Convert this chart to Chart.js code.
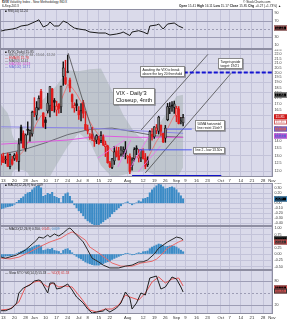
<!DOCTYPE html>
<html lang="en">
<head>
<meta charset="UTF-8">
<title>$VIX daily</title>
<script src="https://cdn.jsdelivr.net/npm/chart.js"></script>
<style>
  * { box-sizing: border-box; }
  body { margin: 0; width: 287px; height: 320px; overflow: hidden; position: relative; background: #fff;
         font-family: 'Liberation Sans', Arial, sans-serif; color: #222; }
  canvas { position: absolute; left: 0; }
  .t { position: absolute; white-space: nowrap; font-size: 3.2px; line-height: 3.4px; z-index: 4; }
  .note { position: absolute; background: #fff; border: 0.6px solid #888; box-shadow: 0.8px 0.8px 0 rgba(0,0,0,0.35);
          white-space: nowrap; font-size: 3.3px; line-height: 4px; padding: 0.5px 1.5px; color: #111; z-index: 5; }
  .big { font-size: 5.6px; line-height: 7px; padding: 0.5px 2px; }
</style>
</head>
<body>
<canvas id="rsi" width="287" height="40" style="top:9px"></canvas>
<canvas id="main" width="287" height="134" style="top:49px"></canvas>
<canvas id="hist" width="287" height="43" style="top:183px"></canvas>
<canvas id="macd" width="287" height="44" style="top:226px"></canvas>
<canvas id="sto" width="287" height="50" style="top:270px"></canvas>

<div class="t" style="left:2px;top:0.5px"><b>$VIX</b> Volatility Index - New Methodology INDX</div>
<div class="t" style="left:2px;top:4.5px">6-Sep-2013</div>
<div class="t" style="left:243px;top:0.5px">© StockCharts.com</div>
<div class="t" style="left:179px;top:4.5px"><b>Open</b> 15.41 <b>High</b> 16.11 <b>Low</b> 15.17 <b>Close</b> 15.85 <b>Chg</b> +0.27 (+1.73%) ▲</div>
<div class="t" style="left:5px;top:10px">■ RSI(14) 52.24</div>

<div class="t" style="left:5px;top:50.5px">■ $VIX (Daily) 15.85</div>
<div class="t" style="left:5px;top:53.5px;color:#666">— BB(20,2.0) 17.84 - 15.04 - 12.24</div>
<div class="t" style="left:5px;top:56.5px;color:#d02020">— EMA(8) 15.78</div>
<div class="t" style="left:5px;top:59.5px;color:#444">— MA(50) 14.41</div>
<div class="t" style="left:5px;top:62.5px;color:#d040d0">— MA(200) 14.33</div>
<div class="t" style="left:5px;top:65.5px;color:#6060d0">— MA(100) 14.71</div>

<div class="t" style="left:5px;top:184px">■ MACD(12,26,9) hist 0.09</div>
<div class="t" style="left:5px;top:227.5px">— MACD(12,26,9) 0.550, <span style="color:#d03030">0.541</span>, <span style="color:#3b8bc6">0.009</span></div>
<div class="t" style="left:5px;top:271.5px">— Slow STO %K(14,3) 55.33 <span style="color:#d03030">— %D(3) 61.53</span></div>

<div class="note" style="left:140px;top:66px">Awaiting the VIX to break<br>above the key 20 threshold</div>
<div class="note big" style="left:113px;top:88px">VIX - Daily'3<br>Closeup, 4mth</div>
<div class="note" style="left:218px;top:58px">Target upside<br>target: 19/21</div>
<div class="note" style="left:195px;top:120px">50MA horizontal<br>line resist 15ish?</div>
<div class="note" style="left:193px;top:147px;line-height:3.6px">line 2 - low 13.50s</div>

<script>
  // ---------- data (trading-day index 0 = 10 May 2013) ----------
  const tickDays = [1, 6, 11, 15, 20, 25, 30, 35, 39, 44, 49, 57, 64, 69, 74, 79, 83, 88, 93, 99, 103, 108, 113, 118, 122];
  const tickText = ['13', '20', '28', 'Jun', '10', '17', '24', 'Jul', '8', '15', '22', 'Aug', '12', '19', '26', 'Sep', '9', '16', '23', 'Oct', '7', '14', '21', '28', 'Nov'];

  const prevClose = 12.88;
  const open = [13.02, 12.94, 12.71, 13.07, 12.28, 12.73, 12.81, 13.08, 12.62, 15.07,
    14.59, 13.49, 14.88, 14.62, 14.56, 16.36, 16.03, 16.63, 18.14, 16.22,
    15.65, 16.40, 16.82, 18.37, 17.31, 16.47, 16.97, 16.74, 19.61, 19.49,
    20.01, 19.24, 17.84, 16.66, 17.01, 16.41, 16.31, 17.11, 15.29, 14.84,
    14.29, 14.51, 14.06, 14.10, 14.20, 14.06, 14.33, 13.63, 13.67, 12.51,
    12.23, 12.66, 13.33, 13.01, 13.11, 13.31, 13.16, 12.89, 12.95, 12.35,
    12.80, 13.52, 12.84, 12.85, 13.33, 12.81, 12.41, 13.40, 14.52, 14.34,
    14.85, 14.77, 15.23, 14.59, 14.24, 15.67, 16.62, 16.83, 16.70, 16.03,
    16.56, 15.50, 15.41];
  const high = [13.09, 13.17, 12.97, 13.18, 13.13, 12.96, 13.14, 13.24, 14.20, 15.23,
    14.79, 14.55, 15.49, 14.87, 16.39, 17.56, 17.21, 17.74, 18.34, 16.25,
    15.86, 17.97, 18.59, 18.44, 17.49, 17.24, 17.03, 18.66, 21.15, 21.32,
    21.91, 19.45, 17.92, 17.10, 17.38, 16.77, 17.02, 17.32, 16.35, 15.24,
    14.58, 15.06, 14.26, 14.50, 14.38, 14.73, 14.49, 14.02, 13.72, 12.63,
    12.82, 13.65, 13.60, 13.58, 13.62, 13.61, 13.99, 13.02, 13.13, 12.85,
    13.55, 13.69, 13.44, 13.44, 13.47, 13.15, 12.93, 14.80, 14.96, 15.11,
    15.28, 15.95, 15.24, 14.62, 15.21, 17.05, 17.11, 17.20, 17.25, 16.80,
    16.77, 15.85, 16.11];
  const low = [12.39, 12.54, 12.48, 12.30, 12.14, 12.37, 12.68, 12.61, 11.99, 13.87,
    13.53, 13.30, 14.47, 14.02, 14.39, 15.91, 15.64, 16.47, 16.56, 15.06,
    14.95, 16.22, 15.90, 16.41, 16.29, 15.99, 16.21, 16.25, 18.70, 18.79,
    19.98, 18.09, 16.65, 16.28, 16.41, 15.68, 15.56, 15.81, 14.87, 14.55,
    14.14, 14.06, 13.64, 13.84, 13.78, 13.90, 13.70, 12.94, 12.50, 12.22,
    12.15, 12.42, 12.91, 12.72, 12.96, 12.95, 12.79, 12.50, 11.84, 12.06,
    12.64, 13.07, 12.58, 12.61, 12.76, 12.15, 12.29, 13.40, 14.09, 14.22,
    14.56, 14.54, 14.44, 13.90, 13.93, 15.58, 16.16, 16.35, 16.19, 15.50,
    15.32, 15.32, 15.17];
  const close = [12.59, 12.55, 12.77, 12.31, 13.07, 12.45, 13.02, 12.73, 13.82, 14.07,
    13.53, 14.48, 14.83, 14.83, 16.30, 16.27, 16.68, 17.50, 16.63, 15.14,
    15.44, 17.07, 18.59, 16.41, 17.15, 16.80, 16.61, 18.64, 20.49, 18.90,
    20.11, 18.47, 17.21, 16.86, 16.86, 16.07, 16.44, 16.20, 14.89, 14.78,
    14.35, 14.21, 14.01, 14.42, 13.84, 14.42, 13.78, 13.77, 12.54, 12.29,
    12.79, 13.26, 12.97, 12.72, 13.39, 13.39, 13.45, 12.94, 11.98, 12.72,
    13.41, 13.44, 12.98, 13.41, 12.81, 12.31, 12.72, 14.73, 14.37, 15.10,
    14.99, 15.88, 14.76, 13.98, 14.99, 16.77, 16.77, 16.81, 17.01, 16.61,
    15.36, 15.58, 15.85];

  // Bollinger band (20,2) and moving averages
  const bbDay = [0, 3, 4, 5, 6, 8, 10, 12, 14, 17, 20, 25, 30, 35, 40, 45, 50, 55, 60, 65, 70, 75, 79, 82];
  const bbUpper = [16.9, 16.2, 15.6, 14.5, 14.1, 14.1, 14.25, 14.7, 15.4, 17.05, 17.6, 18.7, 20.24, 20.13, 20.35, 20.43, 18.19, 16.08, 14.68, 14.0, 15.0, 16.35, 17.7, 17.84];
  const bbLower = [11.2, 11.0, 11.2, 11.9, 12.1, 12.1, 12.05, 11.9, 11.35, 10.9, 11.2, 12.4, 13.64, 14.63, 13.95, 12.35, 11.63, 11.76, 11.96, 12.04, 11.7, 11.43, 11.5, 12.24];
  const emaDay = [0, 3, 6, 8, 10, 12, 14, 16, 18, 20, 22, 24, 26, 28, 30, 32, 34, 36, 38, 40, 42, 44, 46, 48, 50, 52, 54, 56, 58, 60, 62, 64, 66, 68, 70, 72, 74, 76, 78, 80, 82];
  const emaVal = [12.9, 12.7, 12.75, 13.0, 13.3, 13.9, 14.6, 15.4, 16.0, 15.9, 16.6, 16.8, 16.8, 17.8, 18.8, 18.5, 17.9, 17.2, 16.3, 15.5, 14.9, 14.5, 14.2, 13.7, 13.3, 13.1, 13.1, 13.2, 12.8, 12.9, 13.0, 13.0, 12.8, 13.4, 14.0, 14.5, 14.6, 15.3, 16.0, 15.9, 15.8];
  const ma50Day = [0, 10, 20, 30, 40, 50, 60, 70, 82];
  const ma50Val = [13.1, 13.4, 13.9, 14.5, 14.9, 15.0, 14.7, 14.4, 14.3];
  const ma200Day = [0, 30, 45, 60, 82];
  const ma200Val = [13.8, 14.1, 14.4, 14.3, 14.3];
  const ma100Day = [0, 40, 82];
  const ma100Val = [15.1, 15.0, 14.6];

  // drawn trend lines and levels: [day, value] end points
  const trendDown = [[30.2, 22.13], [42.6, 13.95]];
  const chanUpper = [[63.1, 14.85], [93.2, 21.99]];
  const chanLower = [[64.9, 11.88], [103.7, 19.95]];
  const level20 = [[82.3, 20], [122.5, 20]];
  const resist50 = [[74.5, 14.92], [85.9, 14.92]];
  const line2 = [[62, 13.4], [85.9, 13.4]];
  const floorLine = [[59, 11.7], [99.2, 11.7]];
  const pinkLines = [
    [[43.5, 12.84], [55.8, 14.11]],
    [[52.6, 12.26], [58.5, 14.11]],
    [[58.5, 12.26], [66.3, 14.32]],
    [[61.7, 11.94], [71.8, 13.67]]
  ];

  // RSI(14)
  const rsiDay = [0, 2, 5, 7, 9, 12, 14, 16, 17, 19, 21, 22, 24, 26, 28, 30, 31, 33, 35, 38, 40, 44, 47, 49, 52, 54, 55, 58, 59, 62, 64, 66, 67, 70, 71, 73, 75, 78, 80, 82];
  const rsiVal = [45, 47.5, 50, 52.5, 57.5, 60, 65, 70, 73, 55, 60, 67.5, 57.5, 57.5, 70, 65, 60, 52.5, 50, 47.5, 42.5, 40, 40, 35, 37.5, 40, 42.5, 33.75, 42.5, 45.75, 42.5, 37.5, 57.5, 60, 62.5, 50, 62.5, 65, 57.5, 52.5];

  // MACD(12,26,9)
  const macdHist = [-0.11, -0.10, -0.08, -0.07, -0.06, -0.05, -0.02, 0.02, 0.06, 0.10,
    0.13, 0.18, 0.21, 0.22, 0.27, 0.31, 0.34, 0.35, 0.31, 0.14,
    0.16, 0.20, 0.18, 0.22, 0.14, 0.12, 0.10, 0.01, 0.14, 0.19,
    0.21, 0.14, 0.05, -0.03, -0.09, -0.15, -0.19, -0.25, -0.31, -0.35,
    -0.38, -0.41, -0.43, -0.43, -0.43, -0.40, -0.37, -0.33, -0.30, -0.27,
    -0.21, -0.17, -0.13, -0.09, -0.05, -0.01, 0.01, 0.03, 0.00, -0.03,
    -0.01, 0.01, 0.05, 0.03, 0.09, 0.10, 0.12, 0.21, 0.27, 0.31,
    0.35, 0.39, 0.37, 0.33, 0.29, 0.30, 0.32, 0.33, 0.31, 0.27,
    0.21, 0.15, 0.09];
  const macdDay = [0, 2, 7, 11, 16, 17, 19, 21, 22, 24, 26, 28, 30, 31, 32, 34, 37, 39, 41, 44, 46, 49, 53, 56, 59, 62, 64, 66, 69, 71, 75, 79, 81, 82];
  const macdVal = [-0.12, -0.16, -0.04, 0.16, 0.54, 0.66, 0.62, 0.74, 0.66, 0.78, 0.70, 0.82, 0.97, 1.01, 0.93, 0.74, 0.47, 0.16, -0.16, -0.31, -0.43, -0.54, -0.54, -0.47, -0.43, -0.31, -0.30, -0.23, 0.0, 0.23, 0.47, 0.66, 0.62, 0.55];
  const sigDay = [0, 4, 8, 12, 17, 22, 27, 30, 32, 34, 38, 40, 44, 47, 50, 54, 59, 63, 68, 70, 72, 75, 80, 82];
  const sigVal = [-0.16, -0.19, -0.12, 0.04, 0.27, 0.47, 0.62, 0.78, 0.86, 0.78, 0.54, 0.27, 0.04, -0.16, -0.35, -0.47, -0.47, -0.35, -0.28, -0.2, -0.05, 0.23, 0.47, 0.54];

  // Slow stochastic
  const kDay = [0, 2, 5, 7, 8, 10, 13, 15, 17, 18, 21, 22, 24, 25, 27, 30, 32, 34, 37, 39, 41, 43, 46, 47, 49, 52, 54, 56, 58, 59, 61, 63, 65, 67, 70, 72, 74, 77, 79, 81, 82];
  const kVal = [5.75, 5.75, 12.5, 25, 50, 62.5, 70, 80, 82.5, 80, 50, 75, 75, 60, 62.5, 72.5, 57.5, 40, 25, 10, 0, 2.5, 5, 10, 2.5, 12.5, 25, 52.5, 37.5, 10, 25, 50, 45, 87.5, 92.5, 60, 65, 90, 85, 65, 52.5];
  const dDay = [0, 4, 8, 11, 15, 17, 21, 23, 26, 29, 32, 36, 40, 43, 47, 50, 53, 56, 58, 62, 65, 68, 71, 74, 77, 80, 82];
  const dVal = [7.5, 10, 27.5, 65, 77.5, 80, 65, 75, 65, 67.5, 65, 37.5, 7.5, 2.5, 10, 10, 20, 45, 40, 32.5, 50, 77.5, 90, 75, 85, 87.5, 67.5];

  // ---------- helpers ----------
  const FONT = "'Liberation Sans', Arial, sans-serif";
  Chart.defaults.font.family = FONT;
  Chart.defaults.color = '#333';

  const BG = '#dadaea';
  const GRID = '#c3c3d9';
  const LEVEL = '#9d9db5';

  const panel = {
    id: 'panel',
    beforeDraw(chart) {
      const {ctx, chartArea: a} = chart;
      ctx.save();
      ctx.fillStyle = BG;
      ctx.fillRect(a.left, a.top, a.right - a.left, a.bottom - a.top);
      ctx.restore();
    },
    beforeDatasetsDraw(chart, args, o) {
      const {ctx, chartArea: a} = chart;
      const y = chart.scales.y;
      (o.levels || []).forEach(l => {
        const py = Math.round(y.getPixelForValue(l.v)) + 0.5;
        ctx.save();
        ctx.strokeStyle = l.color;
        ctx.lineWidth = 1;
        ctx.setLineDash(l.dash || []);
        ctx.beginPath();
        ctx.moveTo(a.left, py);
        ctx.lineTo(a.right, py);
        ctx.stroke();
        ctx.restore();
      });
    },
    afterDraw(chart, args, o) {
      const {ctx, chartArea: a} = chart;
      const y = chart.scales.y;
      ctx.save();
      ctx.strokeStyle = '#8e8ea2';
      ctx.lineWidth = 1;
      ctx.strokeRect(a.left + 0.5, a.top + 0.5, a.right - a.left - 1, a.bottom - a.top - 1);
      (o.boxes || []).forEach(b => {
        const py = Math.round(y.getPixelForValue(b.v));
        ctx.fillStyle = b.fill || '#fff';
        ctx.fillRect(a.right + 1, py - 2.5, 13, 5);
        ctx.strokeStyle = b.color;
        ctx.strokeRect(a.right + 1.5, py - 2, 12, 4);
        ctx.fillStyle = b.text || b.color;
        ctx.font = '3.6px ' + FONT;
        ctx.textBaseline = 'middle';
        ctx.fillText(b.label, a.right + 2.5, py + 0.2);
      });
      ctx.restore();
    }
  };
  Chart.register(panel);

  function xAxis(showLabels) {
    return {
      type: 'linear', min: -0.5, max: 122.5, bounds: 'data', offset: false,
      afterBuildTicks: s => { s.ticks = tickDays.map(v => ({value: v})); },
      afterFit: s => { s.height = showLabels ? 6 : 0; s.paddingLeft = 0; s.paddingRight = 0; },
      grid: {color: GRID, lineWidth: 1, drawTicks: false, offset: false},
      border: {display: false},
      ticks: {display: showLabels, autoSkip: false, maxRotation: 0, padding: 1, font: {size: 4.2}, color: '#333',
        callback: (v, i) => tickText[i]}
    };
  }

  function yAxis(type, min, max, ticks, fmt, gridColor) {
    return {
      type, min, max, bounds: 'data', position: 'right',
      afterBuildTicks: s => { s.ticks = ticks.map(v => ({value: v})); },
      afterFit: s => { s.width = 14; s.paddingTop = 0; s.paddingBottom = 0; },
      grid: {color: gridColor || GRID, lineWidth: 1, drawTicks: false},
      border: {display: false},
      ticks: {autoSkip: false, padding: 1.5, font: {size: 3.6}, color: '#333', callback: fmt}
    };
  }

  function options(showX, y, panelOpts) {
    return {
      responsive: false, animation: false, events: [],
      layout: {padding: 0, autoPadding: false},
      plugins: {legend: {display: false}, tooltip: {enabled: false}, panel: panelOpts || {}},
      scales: {x: xAxis(showX), y}
    };
  }

  const pts = (days, vals) => days.map((d, i) => ({x: d, y: vals[i]}));
  const seg = p => p.map(([x, y]) => ({x, y}));
  function line(data, color, width, extra) {
    return Object.assign({type: 'line', data, borderColor: color, borderWidth: width,
      pointRadius: 0, tension: 0, fill: false}, extra || {});
  }

  // ---------- RSI ----------
  new Chart(document.getElementById('rsi'), {
    type: 'line',
    data: {datasets: [line(pts(rsiDay, rsiVal), '#1a1a1a', 1)]},
    options: options(false,
      yAxis('linear', 0, 100, [10, 30, 50, 70, 90], v => (v === 50 ? '' : v), 'rgba(0,0,0,0)'),
      {levels: [{v: 70, color: LEVEL}, {v: 30, color: LEVEL}, {v: 50, color: LEVEL, dash: [2, 2]}],
       boxes: [{v: 52.24, label: '52.24', color: '#c07070'}]})
  });

  // ---------- price panel ----------
  const candles = close.map((c, i) => {
    const prev = i ? close[i - 1] : prevClose;
    return {x: i, o: open[i], h: high[i], l: low[i], c, col: c < prev ? '#e01c1c' : '#111', hollow: c >= open[i]};
  });
  const colOf = ctx => (ctx.raw ? ctx.raw.col : '#000');
  const mainTicks = [];
  for (let v = 12; v <= 22.5; v += 0.5) mainTicks.push(v);

  const mainSets = [
    line(pts(bbDay, bbUpper), 'rgba(0,0,0,0)', 0, {fill: '+1', backgroundColor: 'rgba(158,170,170,0.45)', order: 20}),
    line(pts(bbDay, bbLower), 'rgba(0,0,0,0)', 0, {order: 20}),
    line(pts(ma100Day, ma100Val), '#8c86e6', 1, {order: 12}),
    line(pts(ma200Day, ma200Val), '#e05ae0', 1, {order: 12}),
    line(pts(ma50Day, ma50Val), '#6a6a72', 1, {order: 12}),
    line(pts(emaDay, emaVal), '#ee6a6a', 0.8, {order: 11}),
    {type: 'bar', data: candles.map(k => ({x: k.x, y: [k.l, k.h], col: k.col})),
      barThickness: 0.8, grouped: false, backgroundColor: colOf, order: 6},
    {type: 'bar', data: candles.filter(k => !k.hollow).map(k => ({x: k.x, y: [k.c, k.o], col: k.col})),
      barThickness: 1.8, grouped: false, minBarLength: 1, backgroundColor: colOf, order: 5},
    {type: 'bar', data: candles.filter(k => k.hollow).map(k => ({x: k.x, y: [k.o, k.c], col: k.col})),
      barThickness: 2.2, grouped: false, minBarLength: 1, backgroundColor: 'rgba(255,255,255,0.45)', borderColor: colOf,
      borderWidth: 0.7, borderSkipped: false, order: 5},
    line(seg(trendDown), '#4a4a4a', 0.8, {order: 2}),
    line(seg(chanUpper), '#4a4a4a', 0.8, {order: 2}),
    line(seg(chanLower), '#4a4a4a', 0.8, {order: 2}),
    line(seg(level20), '#1414d2', 2, {borderDash: [4, 2], order: 1}),
    line(seg(resist50), '#4f5cf0', 1, {order: 1}),
    line(seg(line2), '#4f5cf0', 1, {order: 1}),
    line(seg(floorLine), '#1212c8', 2, {order: 1})
  ];
  pinkLines.forEach(p => mainSets.push(line(seg(p), '#f070f0', 0.8, {order: 3})));

  new Chart(document.getElementById('main'), {
    type: 'line',
    data: {datasets: mainSets},
    options: options(true,
      yAxis('logarithmic', 11.64, 22.6, mainTicks, v => v.toFixed(1),
        ctx => (Number.isInteger(ctx.tick.value) ? GRID : 'rgba(0,0,0,0)')),
      {boxes: [
        {v: 17.84, label: '17.84', color: '#888'},
        {v: 15.85, label: '15.85', color: '#d01818', fill: '#d01818', text: '#fff'},
        {v: 15.45, label: '15.45', color: '#d06060'},
        {v: 14.92, label: '14.92', color: '#6060d0'},
        {v: 14.41, label: '14.41', color: '#d050d0'}
      ]})
  });

  // ---------- MACD histogram ----------
  const histData = macdHist.map((v, i) => ({x: i, y: v}));
  new Chart(document.getElementById('hist'), {
    type: 'line',
    data: {datasets: [{type: 'bar', data: histData, barThickness: 1.4, backgroundColor: '#3b8bc6'}]},
    options: options(false,
      yAxis('linear', -0.454, 0.406, [-0.4, -0.3, -0.2, -0.1, 0, 0.1, 0.2, 0.3, 0.4], v => v.toFixed(2)),
      {boxes: [{v: 0.09, label: '0.09', color: '#3b8bc6'}]})
  });

  // ---------- MACD ----------
  new Chart(document.getElementById('macd'), {
    type: 'line',
    data: {datasets: [
      line(pts(macdDay, macdVal), '#2a2a2a', 1, {order: 1}),
      line(pts(sigDay, sigVal), '#e86a6a', 1, {order: 2}),
      {type: 'bar', data: histData, barThickness: 1.4, backgroundColor: '#3b8bc6', order: 3}
    ]},
    options: options(false,
      yAxis('linear', -0.62, 1.09, [-0.5, -0.25, 0, 0.25, 0.5, 0.75, 1], v => v.toFixed(2)),
      {boxes: [{v: 0.6, label: '0.550', color: '#333'}, {v: 0.45, label: '0.541', color: '#d05050'}]})
  });

  // ---------- Slow stochastic ----------
  new Chart(document.getElementById('sto'), {
    type: 'line',
    data: {datasets: [
      line(pts(kDay, kVal), '#1f1f1f', 1, {order: 1}),
      line(pts(dDay, dVal), '#e85858', 1, {order: 2})
    ]},
    options: options(true,
      yAxis('linear', -2.5, 107.5, [20, 50, 80], v => (v === 50 ? '' : v), 'rgba(0,0,0,0)'),
      {levels: [{v: 80, color: LEVEL}, {v: 20, color: LEVEL}, {v: 50, color: LEVEL, dash: [2, 2]}],
       boxes: [{v: 61.53, label: '61.53', color: '#d05050'}, {v: 54, label: '55.33', color: '#333'}]})
  });
</script>
</body>
</html>
